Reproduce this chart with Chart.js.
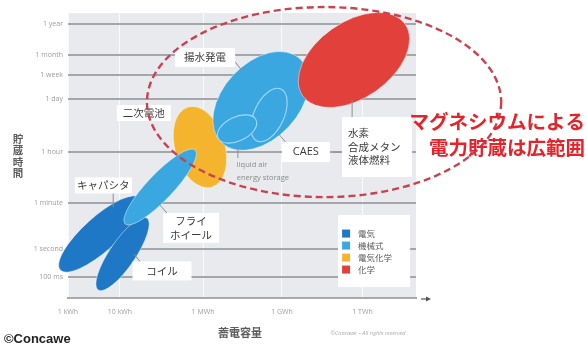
<!DOCTYPE html>
<html>
<head>
<meta charset="utf-8">
<script src="https://cdn.jsdelivr.net/npm/chart.js@4"></script>
<style>
  html, body { margin: 0; padding: 0; background: #fff; }
  canvas { display: block; }
</style>
</head>
<body>
<canvas id="storageChart" width="587" height="345"></canvas>
<script>
// axis units: the scale is not a true log scale, ticks sit where the labels are
var capacityTicks = [0, 1, 2.6, 4.12, 5.67];
var capacityLabels = ['1 kWh', '10 kWh', '1 MWh', '1 GWh', '1 TWh'];
var durationTicks = [0.74, 1.72, 3.33, 5.12, 6.98, 7.82, 8.53, 9.61];
var durationLabels = ['100 ms', '1 second', '1 minute', '1 hour', '1 day', '1 week', '1 month', '1 year'];

var categories = ['電気', '機械式', '電気化学', '化学'];

// each technology spans from (capacityFrom, durationFrom) to (capacityTo, durationTo)
var technologies = ['二次電池', 'キャパシタ', 'コイル', 'フライホイール', '揚水発電', 'CAES', 'liquid air energy storage', '水素・合成メタン・液体燃料'];
var techCategory = [2, 0, 0, 1, 1, 1, 1, 3];
var capacityFrom = [2.31, -0.15, 0.58, 1.10, 2.96, 3.64, 2.89, 4.52];
var capacityTo   = [2.77, 1.39, 1.52, 2.45, 4.47, 4.10, 3.62, 6.49];
var durationFrom = [6.70, 0.98, 0.28, 2.60, 5.44, 5.51, 5.61, 7.09];
var durationTo   = [3.89, 3.51, 2.81, 5.19, 8.39, 7.33, 6.25, 9.61];

// range covered by magnesium storage
var highlightCapacity = [1.52, 8.34];
var highlightDuration = [3.54, 10.21];

// styles
var categoryColors = ['#1f78c6', '#3aa7e1', '#f4b42e', '#e2403b'];
var bandHalfWidth = [25, 17, 13, 13, 38, 15, 12, 38];
var outlined = [false, false, false, false, false, true, true, false];
var jpFont = '"Noto Sans CJK JP", sans-serif';
var latinFont = '"Open Sans", "Noto Sans", sans-serif';

var callouts = [
  { lines: ['揚水発電'], x: 2.64, y: 8.44, w: 60, h: 19 },
  { lines: ['二次電池'], x: 1.46, y: 6.49, w: 54, h: 16 },
  { lines: ['キャパシタ'], x: 0.68, y: 3.95, w: 57, h: 16 },
  { lines: ['フライ', 'ホイール'], x: 2.37, y: 2.46, w: 56, h: 30 },
  { lines: ['コイル'], x: 1.81, y: 0.95, w: 59, h: 19 },
  { lines: ['CAES'], x: 4.58, y: 5.12, w: 48, h: 20 },
  { lines: ['水素', '合成メタン', '液体燃料'], x: 5.95, y: 5.30, w: 70, h: 60, left: true }
];
var leaders = [
  [3.22, 8.28, 3.37, 7.93],
  [4.06, 5.75, 4.20, 5.44],
  [0.87, 3.68, 0.87, 3.19],
  [1.77, 3.26, 1.94, 2.91],
  [1.27, 1.54, 1.41, 1.23],
  [3.27, 5.37, 3.27, 4.91],
  [5.47, 6.95, 5.47, 6.35],
  [5.10, 5.12, 5.26, 5.12]
];

var datasets = technologies.map(function (name, i) {
  return {
    label: name,
    data: [{ x: capacityFrom[i], y: durationFrom[i] }, { x: capacityTo[i], y: durationTo[i] }],
    backgroundColor: categoryColors[techCategory[i]],
    pointRadius: 0,
    showLine: false
  };
});

var storageMap = {
  id: 'storageMap',
  beforeDraw: function (chart) {
    var ctx = chart.ctx, a = chart.chartArea;
    ctx.save();
    ctx.fillStyle = '#fff';
    ctx.fillRect(0, 0, chart.width, chart.height);
    ctx.fillStyle = '#e8eaee';
    ctx.fillRect(a.left, a.top, a.right - a.left, a.bottom - a.top);
    ctx.restore();
  },
  beforeDatasetsDraw: function (chart) {
    var ctx = chart.ctx;
    ctx.save();
    chart.data.datasets.forEach(function (ds, i) {
      var pts = chart.getDatasetMeta(i).data;
      var dx = pts[1].x - pts[0].x, dy = pts[1].y - pts[0].y;
      ctx.beginPath();
      ctx.ellipse((pts[0].x + pts[1].x) / 2, (pts[0].y + pts[1].y) / 2,
        Math.sqrt(dx * dx + dy * dy) / 2, bandHalfWidth[i], Math.atan2(dy, dx), 0, Math.PI * 2);
      ctx.fillStyle = ds.backgroundColor;
      ctx.fill();
      ctx.lineWidth = outlined[i] ? 1.1 : 1;
      ctx.strokeStyle = outlined[i] ? 'rgba(190,230,250,0.8)' : 'rgba(255,255,255,0.45)';
      ctx.stroke();
    });
    ctx.restore();
  },
  afterDatasetsDraw: function (chart) {
    var ctx = chart.ctx, sx = chart.scales.x, sy = chart.scales.y;
    ctx.save();

    // leader lines
    ctx.strokeStyle = '#8e8e8e';
    ctx.lineWidth = 1;
    leaders.forEach(function (l) {
      ctx.beginPath();
      ctx.moveTo(sx.getPixelForValue(l[0]), sy.getPixelForValue(l[1]));
      ctx.lineTo(sx.getPixelForValue(l[2]), sy.getPixelForValue(l[3]));
      ctx.stroke();
    });

    // labelled boxes
    ctx.textBaseline = 'middle';
    callouts.forEach(function (c) {
      var cx = sx.getPixelForValue(c.x), cy = sy.getPixelForValue(c.y);
      ctx.fillStyle = '#fff';
      ctx.fillRect(cx - c.w / 2, cy - c.h / 2, c.w, c.h);
      ctx.fillStyle = '#3a3a3a';
      ctx.font = (c.lines[0] === 'CAES' ? '11px ' + latinFont : '10.5px ' + jpFont);
      var step = 13.5;
      c.lines.forEach(function (t, k) {
        var ty = cy + (k - (c.lines.length - 1) / 2) * step;
        if (c.left) {
          ctx.textAlign = 'left';
          ctx.fillText(t, cx - c.w / 2 + 6, ty);
        } else {
          ctx.textAlign = 'center';
          ctx.fillText(t, cx, ty);
        }
      });
    });

    // liquid air note
    ctx.fillStyle = '#8a8a8a';
    ctx.font = '7.5px ' + latinFont;
    ctx.textAlign = 'left';
    var lx = sx.getPixelForValue(3.25), ly = sy.getPixelForValue(4.67);
    ctx.fillText('liquid air', lx, ly);
    ctx.fillText('energy storage', lx, ly + 13);

    // legend
    var gx = sx.getPixelForValue(5.20), gy = sy.getPixelForValue(2.91);
    ctx.fillStyle = '#fff';
    ctx.fillRect(gx, gy, 72, 72);
    ctx.font = '8.5px ' + jpFont;
    categories.forEach(function (name, k) {
      var ry = gy + 18.5 + k * 12;
      ctx.fillStyle = categoryColors[k];
      ctx.fillRect(gx + 4, ry - 4, 8, 8);
      ctx.fillStyle = '#5a5a5a';
      ctx.fillText(name, gx + 20, ry);
    });

    // magnesium range
    var hx0 = sx.getPixelForValue(highlightCapacity[0]), hx1 = sx.getPixelForValue(highlightCapacity[1]);
    var hy0 = sy.getPixelForValue(highlightDuration[0]), hy1 = sy.getPixelForValue(highlightDuration[1]);
    ctx.beginPath();
    ctx.ellipse((hx0 + hx1) / 2, (hy0 + hy1) / 2, Math.abs(hx1 - hx0) / 2, Math.abs(hy1 - hy0) / 2, 0, 0, Math.PI * 2);
    ctx.setLineDash([7, 4]);
    ctx.lineWidth = 2.4;
    ctx.strokeStyle = '#c8434f';
    ctx.stroke();
    ctx.setLineDash([]);

    ctx.restore();
  },
  afterDraw: function (chart) {
    var ctx = chart.ctx, a = chart.chartArea;
    ctx.save();
    ctx.textBaseline = 'middle';

    // arrow at the end of the capacity axis
    ctx.strokeStyle = '#555';
    ctx.fillStyle = '#555';
    ctx.lineWidth = 1.2;
    ctx.beginPath();
    ctx.moveTo(a.right + 5, a.bottom + 1);
    ctx.lineTo(a.right + 12, a.bottom + 1);
    ctx.stroke();
    ctx.beginPath();
    ctx.moveTo(a.right + 15, a.bottom + 1);
    ctx.lineTo(a.right + 10, a.bottom - 1.5);
    ctx.lineTo(a.right + 10, a.bottom + 3.5);
    ctx.closePath();
    ctx.fill();

    // axis titles
    ctx.fillStyle = '#5c5c5c';
    ctx.font = 'bold 10.5px ' + jpFont;
    ctx.textAlign = 'center';
    var title = '貯蔵時間';
    for (var k = 0; k < title.length; k++) {
      ctx.fillText(title[k], 18, 139 + k * 11.5);
    }
    ctx.font = 'bold 11px ' + jpFont;
    ctx.fillText('蓄電容量', (a.left + a.right) / 2 - 2, 333);

    ctx.fillStyle = '#aaa';
    ctx.font = 'italic 5.5px ' + latinFont;
    ctx.fillText('©Concawe – All rights reserved', 368, 333);

    ctx.fillStyle = '#222';
    ctx.font = 'bold 13px "Liberation Sans", Arial, sans-serif';
    ctx.textAlign = 'left';
    ctx.fillText('©Concawe', 4, 339);

    ctx.fillStyle = '#e5232b';
    ctx.font = 'bold 19.5px ' + jpFont;
    ctx.textAlign = 'right';
    ctx.fillText('マグネシウムによる', chart.width - 2, 122);
    ctx.fillText('電力貯蔵は広範囲', chart.width - 2, 148);

    ctx.restore();
  }
};

new Chart(document.getElementById('storageChart'), {
  type: 'scatter',
  data: { datasets: datasets },
  options: {
    responsive: false,
    animation: false,
    devicePixelRatio: 1,
    layout: { padding: { left: 0, top: 13, right: 171, bottom: 0 } },
    plugins: { legend: { display: false }, tooltip: { enabled: false } },
    scales: {
      x: {
        type: 'linear', min: 0, max: 6.7,
        afterBuildTicks: function (s) { s.ticks = capacityTicks.map(function (v) { return { value: v }; }); },
        afterFit: function (s) { s.height = 47; },
        grid: { color: 'rgba(255,255,255,0.75)', lineWidth: 1, drawTicks: false },
        border: { display: true, color: '#a7a9ac', width: 2 },
        ticks: {
          autoSkip: false, maxRotation: 0, padding: 10, color: '#9c9c9c',
          font: { size: 7, family: latinFont },
          callback: function (v) { var i = capacityTicks.indexOf(v); return i < 0 ? '' : capacityLabels[i]; }
        }
      },
      y: {
        type: 'linear', min: 0, max: 10,
        afterBuildTicks: function (s) { s.ticks = durationTicks.map(function (v) { return { value: v }; }); },
        afterFit: function (s) { s.width = 68; },
        grid: { color: '#a3a6aa', lineWidth: 2, drawTicks: false },
        border: { display: false },
        ticks: {
          autoSkip: false, padding: 5, color: '#9c9c9c',
          font: { size: 7, family: latinFont },
          callback: function (v) { var i = durationTicks.indexOf(v); return i < 0 ? '' : durationLabels[i]; }
        }
      }
    }
  },
  plugins: [storageMap]
});
</script>
</body>
</html>
